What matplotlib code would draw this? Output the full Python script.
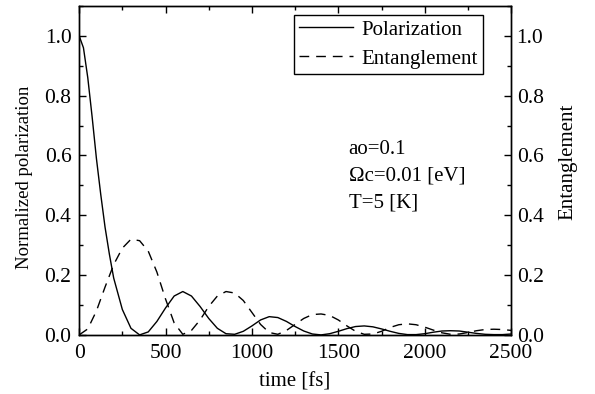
import numpy as np
import matplotlib.pyplot as plt
from matplotlib.ticker import MultipleLocator

plt.rcParams["font.family"] = ["Liberation Serif", "DejaVu Serif"]

# time axis [fs]
t_pol = [0, 25, 50, 75, 100, 125, 150, 175, 200, 250, 300, 350, 400, 450,
         500, 550, 600, 650, 700, 750, 800, 850, 900, 950, 1000, 1050, 1100,
         1150, 1200, 1250, 1300, 1350, 1400, 1450, 1500, 1550, 1600, 1650,
         1700, 1750, 1800, 1850, 1900, 1950, 2000, 2050, 2100, 2150, 2200,
         2250, 2300, 2350, 2400, 2450, 2500]
polarization = [1.0, 0.96, 0.86, 0.73, 0.59, 0.47, 0.36, 0.27, 0.19, 0.085,
                0.022, 0.0, 0.01, 0.045, 0.09, 0.13, 0.145, 0.13, 0.095,
                0.055, 0.022, 0.004, 0.002, 0.012, 0.03, 0.05, 0.061, 0.058,
                0.045, 0.028, 0.013, 0.003, 0.0, 0.004, 0.012, 0.021, 0.028,
                0.03, 0.027, 0.02, 0.012, 0.005, 0.001, 0.001, 0.004, 0.009,
                0.013, 0.014, 0.013, 0.009, 0.005, 0.002, 0.001, 0.001, 0.003]

t_ent = [0, 50, 100, 150, 200, 250, 300, 350, 400, 450, 500, 550, 600, 650,
         700, 750, 800, 850, 900, 950, 1000, 1050, 1100, 1150, 1200, 1250,
         1300, 1350, 1400, 1450, 1500, 1550, 1600, 1650, 1700, 1750, 1800,
         1850, 1900, 1950, 2000, 2050, 2100, 2150, 2200, 2250, 2300, 2350,
         2400, 2450, 2500]
entanglement = [0.0, 0.02, 0.08, 0.16, 0.235, 0.29, 0.32, 0.315, 0.28, 0.21,
                0.12, 0.04, 0.002, 0.015, 0.05, 0.095, 0.13, 0.145, 0.14,
                0.115, 0.075, 0.035, 0.008, 0.002, 0.015, 0.035, 0.055,
                0.068, 0.07, 0.065, 0.05, 0.03, 0.012, 0.002, 0.003, 0.012,
                0.025, 0.034, 0.037, 0.034, 0.026, 0.016, 0.007, 0.002,
                0.003, 0.008, 0.014, 0.018, 0.019, 0.018, 0.015]

params = ["ao=0.1", "\u03a9c=0.01 [eV]", "T=5 [K]"]

fig = plt.figure(figsize=(5.95, 3.94), dpi=100)
ax = fig.add_axes([0.133, 0.150, 0.726, 0.835])

ax.plot(t_pol, polarization, color="black", lw=1.0, label="Polarization")
ax.plot(t_ent, entanglement, color="black", lw=1.0, dashes=(7, 5),
        label="Entanglement")

fmt = plt.FuncFormatter(lambda v, p: f"{v:.1f}")

ax.set_xlim(0, 2500)
ax.set_ylim(0, 1.1)
ax.xaxis.set_major_locator(MultipleLocator(500))
ax.xaxis.set_minor_locator(MultipleLocator(250))
ax.yaxis.set_major_locator(MultipleLocator(0.2))
ax.yaxis.set_minor_locator(MultipleLocator(0.1))
ax.yaxis.set_major_formatter(fmt)
ax.tick_params(which="both", direction="in", top=True, labelsize=15.5,
               width=1.0)
ax.tick_params(which="major", length=5)
ax.tick_params(which="minor", length=3)
ax.tick_params(axis="x", which="major", pad=6.5)
ax.tick_params(axis="y", which="major", pad=5.5)
ax.set_xlabel("time [fs]", fontsize=15, labelpad=7)
ax.set_ylabel("Normalized polarization", fontsize=13.5)
ax.yaxis.set_label_coords(-0.107, 0.479)

ax2 = ax.twinx()
ax2.set_ylim(0, 1.1)
ax2.yaxis.set_major_locator(MultipleLocator(0.2))
ax2.yaxis.set_minor_locator(MultipleLocator(0.1))
ax2.yaxis.set_major_formatter(fmt)
ax2.tick_params(which="both", direction="in", labelsize=15.5, width=1.0)
ax2.tick_params(which="major", length=5, pad=4)
ax2.tick_params(which="minor", length=3)
ax2.set_ylabel("Entanglement", fontsize=15)
ax2.yaxis.set_label_coords(1.109, 0.526)

for a in (ax, ax2):
    for s in a.spines.values():
        s.set_linewidth(1.0)

leg = ax.legend(loc="upper right", bbox_to_anchor=(0.935, 0.973),
                fontsize=15, frameon=True, fancybox=False, edgecolor="black",
                framealpha=1, handlelength=2.6, handletextpad=0.4,
                borderpad=0.25, labelspacing=0.45, borderaxespad=0)
leg.get_frame().set_linewidth(1.0)

# parameter annotations, one per line
for i, line in enumerate(params):
    ax.text(0.624, 0.550 - 0.082 * i, line, transform=ax.transAxes,
            fontsize=15, va="baseline", ha="left")

fig.savefig("out.png", dpi=100)
